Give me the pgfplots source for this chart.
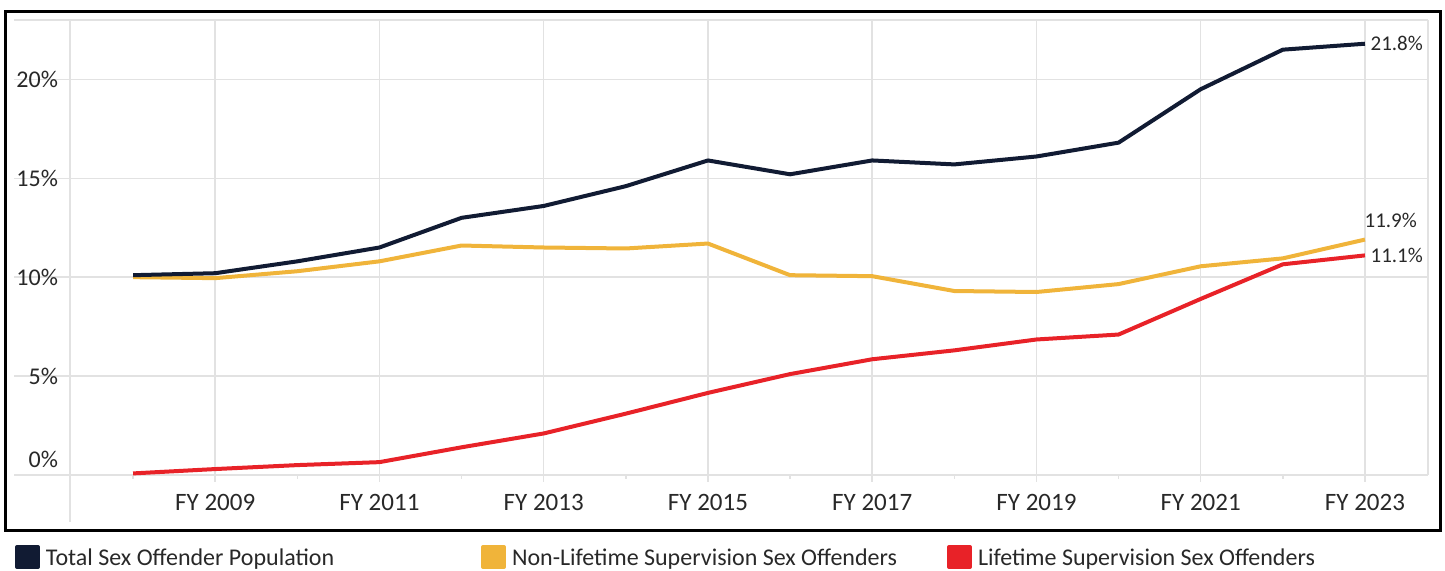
\documentclass[border=0pt]{standalone}
\usepackage{fontspec}
\setmainfont{Carlito}
\usepackage{pgfplots}
\usepackage{pgfplotstable}
\pgfplotsset{compat=1.18}

\definecolor{navy}{RGB}{17,27,51}
\definecolor{gold}{RGB}{240,180,58}
\definecolor{lred}{RGB}{232,34,40}
\definecolor{gridgray}{RGB}{226,226,226}
\definecolor{txt}{RGB}{40,40,40}

% share of the population, in percent
\pgfplotstableread{
year  total  non    life
2008  10.1   10.0   0.08
2009  10.2   9.95   0.30
2010  10.8   10.3   0.50
2011  11.5   10.8   0.65
2012  13.0   11.6   1.40
2013  13.6   11.5   2.10
2014  14.6   11.45  3.10
2015  15.9   11.7   4.15
2016  15.2   10.1   5.10
2017  15.9   10.05  5.85
2018  15.7   9.3    6.30
2019  16.1   9.25   6.85
2020  16.8   9.65   7.10
2021  19.5   10.55  8.90
2022  21.5   10.95  10.65
2023  21.8   11.9   11.1
}\rates

\newcommand{\entry}[1]{\raisebox{6pt}{\makebox[217.5pt][l]{#1}}}

\begin{document}
\begin{tikzpicture}
\begin{axis}[
  scale only axis, width=707pt, height=227.5pt,
  xmin=2006.55, xmax=2023.768, ymin=0, ymax=23.0,
  clip=false,
  axis lines*=left, axis line style={draw=none},
  tick align=outside, major tick length=3.5pt, minor tick length=2pt,
  xtick={2009,2011,...,2023},
  xticklabels={FY 2009,FY 2011,FY 2013,FY 2015,FY 2017,FY 2019,FY 2021,FY 2023},
  minor xtick={2008,2010,...,2022},
  ytick={5,10,15,20}, yticklabels={5\%,10\%,15\%,20\%},
  extra y ticks={0,23}, extra y tick labels={0\%,},
  extra y tick style={grid=major, tick style={draw=none}, yticklabel style={yshift=8pt}},
  xmajorgrids, ymajorgrids,
  grid style={gridgray, line width=0.75pt},
  x tick style={gridgray, line width=0.75pt},
  y tick style={draw=none},
  xticklabel style={font=\fontsize{12.5}{14}\selectfont, text=txt, yshift=-2.5pt},
  yticklabel style={font=\fontsize{12}{14}\selectfont, text=txt, anchor=east, xshift=29pt},
  /pgf/number format/assume math mode=true,
  legend columns=3, reverse legend,
  legend style={at={(0,0)}, anchor=north west, xshift=0.5pt, yshift=-35pt,
    draw=none, fill=none, inner sep=0pt, outer sep=0pt,
    font=\fontsize{12}{14}\selectfont, text=txt, nodes={inner sep=0pt},
    /tikz/every odd column/.style={column sep=3pt}},
  legend cell align=left,
  legend image code/.code={\fill[#1] (0pt,-1pt) rectangle (10.5pt,9pt);},
]
\addplot[lred, line width=2pt, line join=round] table[x=year, y=life] {\rates}
  node[pos=1, anchor=west, xshift=-1.5pt, font=\fontsize{10.5}{12}\selectfont, text=txt] {11.1\%};
\addlegendentry{\entry{Lifetime Supervision Sex Offenders}}
\addplot[gold, line width=2pt, line join=round] table[x=year, y=non] {\rates}
  node[pos=1, anchor=south west, xshift=-4.5pt, yshift=1.5pt, font=\fontsize{10.5}{12}\selectfont, text=txt] {11.9\%};
\addlegendentry{\entry{Non-Lifetime Supervision Sex Offenders}}
\addplot[navy, line width=2pt, line join=round] table[x=year, y=total] {\rates}
  node[pos=1, anchor=west, xshift=-1.5pt, font=\fontsize{10.5}{12}\selectfont, text=txt] {21.8\%};
\addlegendentry{\entry{Total Sex Offender Population}}

\draw[gridgray, line width=0.75pt] (axis cs:2007.232,23) -- ([yshift=-23.5pt]axis cs:2007.232,0);
\draw[gridgray, line width=0.75pt] (axis cs:2023.768,23) -- (axis cs:2023.768,0);
\draw[black, line width=1.5pt] ([shift={(-4.5pt,-28pt)}]rel axis cs:0,0) rectangle ([shift={(6pt,4pt)}]rel axis cs:1,1);
\coordinate (sw) at (rel axis cs:0,0);
\coordinate (ne) at (rel axis cs:1,1);
\end{axis}
\pgfresetboundingbox
\path[use as bounding box] ([shift={(-7pt,-48pt)}]sw) rectangle ([shift={(8.5pt,10pt)}]ne);
\end{tikzpicture}
\end{document}
